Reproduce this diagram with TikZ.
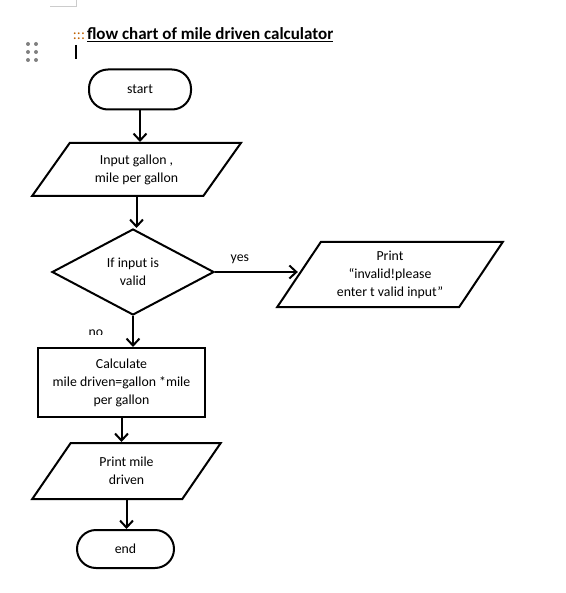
\documentclass[tikz,border=0pt]{standalone}
\usepackage{fontspec}
\setmainfont{Carlito}
\usetikzlibrary{arrows.meta,shapes.geometric}

\tikzset{
  term/.style={draw, rectangle, rounded corners=19pt, inner sep=0pt, align=center},
  proc/.style={draw, rectangle, inner sep=0pt, align=center},
  io/.style={draw, trapezium, trapezium stretches=true, inner sep=0pt, align=center},
  decision/.style={draw, diamond, inner sep=0pt, align=center},
  arr/.style={-{Straight Barb[length=7pt,width=13pt]}}
}

\begin{document}
\begin{tikzpicture}[x=1pt, y=-1pt, line width=2pt,
  font=\fontsize{13.8}{18}\selectfont]
  \useasboundingbox (0,0) rectangle (565,593);

  % page mark, handle and cursor
  \draw[gray!40, line width=0.8pt] (50,6) -- (76,6) -- (76,0);
  \foreach \y in {44,52,60}
    \foreach \x in {28,36}
      \fill[gray] (\x,\y) circle (2pt);
  \draw[line width=1.8pt] (76,45) -- (76,59);

  % title
  \node[anchor=base west, inner sep=0pt] (title) at (86,40)
    {\bfseries\fontsize{17}{19}\selectfont\underline{flow chart of mile driven calculator}};
  \node[anchor=base east, inner sep=0pt, text=orange!75!black] (mark) at (title.base west)
    {\fontsize{15}{17}\selectfont :::};

  % boxes
  \node[term, minimum width=102pt, minimum height=40pt] (start) at (140,89.5) {start};
  \node[io, minimum width=209pt, minimum height=53pt,
    trapezium left angle=52, trapezium right angle=128] (input) at (136.5,169.5)
    {Input gallon ,\\ mile per gallon};
  \node[decision, minimum width=162pt, minimum height=86pt] (check) at (133,272)
    {If input is\\ valid};
  \node[io, minimum width=226pt, minimum height=65pt,
    trapezium left angle=55, trapezium right angle=125] (invalid) at (390,274.5)
    {Print\\ “invalid!please\\ enter t valid input”};
  \node[proc, minimum width=167pt, minimum height=69pt] (calc) at (121.5,382.5)
    {Calculate\\ mile driven=gallon *mile\\ per gallon};
  \node[io, minimum width=189pt, minimum height=56pt,
    trapezium left angle=56, trapezium right angle=124] (output) at (126.5,471)
    {Print mile\\ driven};
  \node[term, minimum width=97pt, minimum height=38pt] (end) at (125.5,549) {end};

  % connectors
  \draw[arr] (start.south) -- (start.south |- input.north);
  \draw[arr] (input.south) -- (input.south |- check.north);
  \draw[arr] (check.east) -- (check.east -| invalid.west)
    node[pos=0.3, above=4pt] (yes) {yes};
  \draw[arr] (check.south) -- (check.south |- calc.north);
  \draw[arr] (calc.south) -- (calc.south |- output.north);
  \draw[arr] (output.south) -- (output.south |- end.north);

  % "no" is cut off by the box edge
  \begin{scope}
    \clip (80,320) rectangle (112,334.5);
    \node[anchor=base] (no) at (96,336) {no};
  \end{scope}
\end{tikzpicture}
\end{document}
